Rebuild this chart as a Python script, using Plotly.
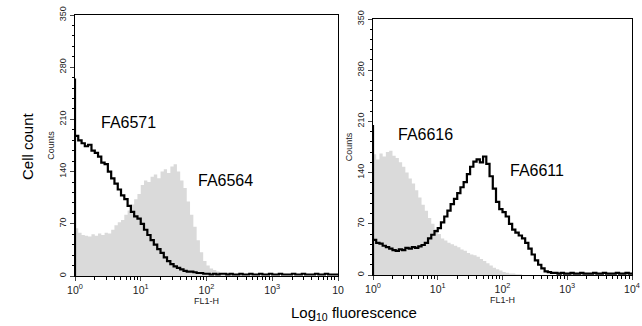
import plotly.graph_objects as go

# FL1-H channel positions (log-spaced, ~0.05 decade)
FL1 = [1.00, 1.12, 1.26, 1.41, 1.58, 1.78, 2.00, 2.24, 2.51, 2.82,
       3.16, 3.55, 3.98, 4.47, 5.01, 5.62, 6.31, 7.08, 7.94, 8.91,
       10.0, 11.2, 12.6, 14.1, 15.8, 17.8, 20.0, 22.4, 25.1, 28.2,
       31.6, 35.5, 39.8, 44.7, 50.1, 56.2, 63.1, 70.8, 79.4, 89.1,
       100, 112, 126, 141, 158, 178, 200, 224, 251, 282,
       316, 355, 398, 447, 501, 562, 631, 708, 794, 891,
       1000, 1122, 1259, 1413, 1585, 1778, 1995, 2239, 2512, 2818,
       3162, 3548, 3981, 4467, 5012, 5623, 6310, 7079, 7943, 8913, 10000]

# Left panel
FA6564 = [70, 64, 58, 55, 54, 53, 56, 54, 57, 55,
          58, 57, 62, 68, 72, 75, 82, 88, 96, 103,
          110, 122, 128, 126, 133, 136, 131, 140, 143, 138,
          147, 150, 140, 128, 118, 100, 82, 66, 48, 32,
          20, 14, 10, 8, 6, 4, 3, 2, 2, 1,
          1, 1, 0, 0, 0, 0, 0, 0, 0, 0,
          0, 0, 0, 0, 0, 0, 0, 0, 0, 0,
          0, 0, 0, 0, 0, 0, 0, 0, 0, 0, 0]
FA6571 = [265, 188, 182, 178, 174, 176, 168, 165, 160, 152,
          150, 140, 131, 124, 116, 108, 103, 94, 86, 80,
          77, 70, 62, 55, 48, 42, 36, 31, 25, 20,
          16, 13, 11, 9, 7, 6, 6, 5, 4, 4,
          3, 3, 2, 3, 2, 3, 3, 2, 3, 2,
          2, 3, 2, 2, 3, 2, 2, 3, 2, 2,
          3, 2, 2, 3, 2, 2, 2, 3, 2, 2,
          3, 2, 2, 2, 3, 2, 2, 3, 2, 2, 2]

# Right panel
FA6616 = [160, 165, 158, 166, 162, 168, 170, 163, 160, 154,
          148, 140, 132, 125, 116, 106, 96, 88, 78, 70,
          63, 56, 50, 47, 44, 42, 40, 38, 35, 33,
          30, 28, 27, 25, 22, 19, 16, 13, 10, 8,
          6, 4, 3, 2, 2, 1, 1, 0, 0, 0,
          0, 0, 0, 0, 0, 0, 0, 0, 0, 0,
          0, 0, 0, 0, 0, 0, 0, 0, 0, 0,
          0, 0, 0, 0, 0, 0, 0, 0, 0, 0, 0]
FA6611 = [205, 48, 44, 43, 40, 38, 36, 34, 33, 35,
          34, 37, 36, 38, 37, 39, 41, 44, 50, 55,
          60, 64, 72, 80, 88, 97, 104, 112, 120, 127,
          138, 148, 155, 158, 154, 162, 152, 135, 118, 100,
          90, 86, 80, 70, 62, 58, 54, 50, 44, 36,
          28, 20, 14, 9, 5, 4, 3, 3, 2, 3,
          2, 2, 3, 2, 2, 3, 2, 2, 2, 3,
          2, 2, 3, 2, 2, 2, 3, 2, 2, 3, 2]

X_TICKS = [1, 10, 100, 1000, 10000]
X_TEXT_LEFT = ["10<sup>0</sup>", "10<sup>1</sup>", "10<sup>2</sup>", "10<sup>3</sup>", "10"]
X_TEXT_RIGHT = ["10<sup>0</sup>", "10<sup>1</sup>", "10<sup>2</sup>", "10<sup>3</sup>", "10<sup>4</sup>"]
Y_TICKS = [0, 70, 140, 210, 280, 350]
X_MINOR = [m * d for d in (1, 10, 100, 1000) for m in range(2, 10)]

FONT = "Liberation Sans, Arial, sans-serif"
GRAY = "#dadada"

W, H = 642, 326

def px(p):
    return p / W

def py(p):
    return 1 - p / H

fig = go.Figure()

def add_panel(fill_vals, line_vals, xa, ya):
    x = [FL1[0]] + FL1
    fig.add_trace(go.Scatter(x=x, y=[0] + fill_vals, mode="lines", line=dict(width=0, shape="vh"),
                             fill="tozeroy", fillcolor=GRAY, xaxis=xa, yaxis=ya, hoverinfo="skip"))
    fig.add_trace(go.Scatter(x=x, y=[0] + line_vals, mode="lines",
                             line=dict(color="black", width=2.2, shape="vh"),
                             xaxis=xa, yaxis=ya, hoverinfo="skip"))

add_panel(FA6564, FA6571, "x", "y")
add_panel(FA6616, FA6611, "x2", "y2")

xcommon = dict(type="log", range=[0, 4], tickvals=X_TICKS, ticks="outside", ticklen=4,
               showline=True, linecolor="black", linewidth=1, mirror=True, showgrid=False,
               zeroline=False, automargin=False, ticklabeloverflow="allow",
               tickfont=dict(family=FONT, size=10.5, color="#222"),
               minor=dict(tickvals=X_MINOR, ticks="outside", ticklen=2.5, tickcolor="black", showgrid=False),
               title=dict(text="FL1-H", font=dict(family=FONT, size=9, color="#222"), standoff=0))
ycommon = dict(range=[0, 350], tickvals=Y_TICKS, ticks="outside", ticklen=4, tickangle=-90,
               showline=True, linecolor="black", linewidth=1, mirror=True, showgrid=False,
               zeroline=False, automargin=False, ticklabeloverflow="allow",
               tickfont=dict(family=FONT, size=9, color="#222"),
               minor=dict(dtick=14, ticks="outside", ticklen=2.5, tickcolor="black", showgrid=False),
               title=dict(text="Counts", font=dict(family=FONT, size=9, color="#222"), standoff=2))

fig.update_layout(
    width=W, height=H, margin=dict(l=0, r=0, t=0, b=0, autoexpand=False),
    paper_bgcolor="white", plot_bgcolor="white", showlegend=False,
    xaxis=dict(domain=[px(75), px(338)], anchor="y", ticktext=X_TEXT_LEFT, **xcommon),
    xaxis2=dict(domain=[px(373), px(632)], anchor="y2", ticktext=X_TEXT_RIGHT, **xcommon),
    yaxis=dict(domain=[py(276), py(15)], anchor="x", **ycommon),
    yaxis2=dict(domain=[py(275), py(19)], anchor="x2", **ycommon),
    font=dict(family=FONT),
)

ann = dict(showarrow=False, font=dict(family=FONT, size=16, color="black"),
           xref="paper", yref="paper", xanchor="left", yanchor="middle")
fig.add_annotation(text="FA6571", x=px(99), y=py(122), **ann)
fig.add_annotation(text="FA6564", x=px(196), y=py(180), **ann)
fig.add_annotation(text="FA6616", x=px(396), y=py(134), **ann)
fig.add_annotation(text="FA6611", x=px(508), y=py(170), **ann)
fig.add_annotation(text="Cell count", x=px(27), y=py(146), xref="paper", yref="paper",
                   textangle=-90, xanchor="center", yanchor="middle",
                   showarrow=False, font=dict(family=FONT, size=15, color="black"))
fig.add_annotation(text="Log<sub>10</sub> fluorescence", x=px(354), y=py(313),
                   xref="paper", yref="paper", xanchor="center", yanchor="middle",
                   showarrow=False, font=dict(family=FONT, size=15, color="black"))

fig.write_html("out.html", config={"displayModeBar": False},
               post_script="document.body.style.margin='0px';document.body.style.overflow='hidden';")
